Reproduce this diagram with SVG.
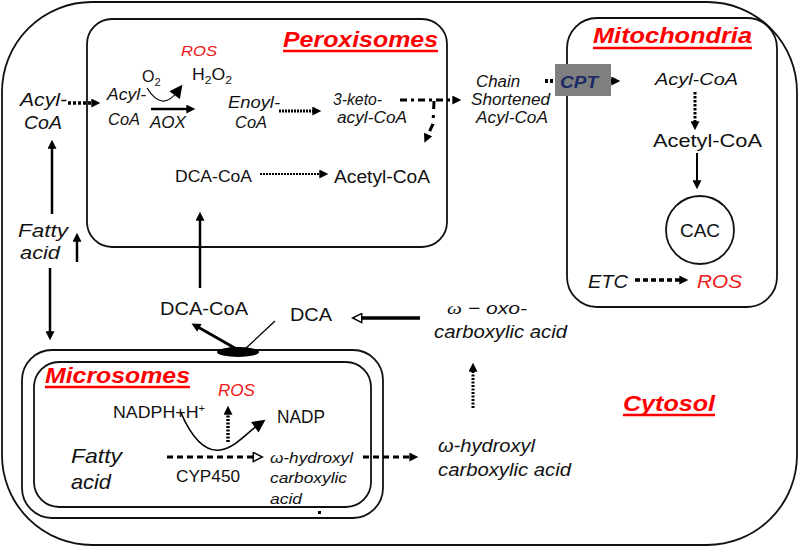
<svg xmlns="http://www.w3.org/2000/svg" width="800" height="547" viewBox="0 0 800 547">
<style>
text{font-family:"Liberation Sans",Arial,sans-serif;fill:#111}
.i{font-style:italic}
.red{fill:#f01818}
.ttl{font-weight:bold;font-style:italic;font-size:22px;fill:#f00}
.ul{stroke:#f00;stroke-width:2.5}
.box{fill:none;stroke:#111;stroke-width:1.8}
.c{fill:none;stroke:#000}
</style>
<defs>
<marker id="ah" viewBox="0 0 10 10" refX="3" refY="5" markerWidth="10" markerHeight="9" markerUnits="userSpaceOnUse" orient="auto"><path d="M0,0L10,5L0,10z" fill="#000"/></marker>
<marker id="ahb" viewBox="0 0 10 10" refX="3" refY="5" markerWidth="14" markerHeight="13" markerUnits="userSpaceOnUse" orient="auto"><path d="M0,0L10,5L0,10z" fill="#000"/></marker>
<marker id="aho" viewBox="-1 -1 12 12" refX="3" refY="5" markerWidth="12" markerHeight="11" markerUnits="userSpaceOnUse" orient="auto"><path d="M0,0L10,5L0,10z" fill="#fff" stroke="#000" stroke-width="1.6"/></marker>
</defs>

<g id="cytosol">
<rect class="box" x="2" y="2" width="795" height="543" rx="90"/>
<text class="ttl" x="623" y="411" textLength="92" lengthAdjust="spacingAndGlyphs">Cytosol</text>
<line class="ul" x1="623" y1="415" x2="715" y2="415"/>
</g>

<g id="peroxisomes">
<rect class="box" x="87" y="19" width="360" height="228" rx="25"/>
<text class="ttl" x="283" y="47" textLength="155" lengthAdjust="spacingAndGlyphs">Peroxisomes</text>
<line class="ul" x1="283" y1="51" x2="438" y2="51"/>
</g>

<g id="mitochondria">
<rect class="box" x="567" y="18" width="210" height="289" rx="30"/>
<text class="ttl" x="593" y="43" textLength="159" lengthAdjust="spacingAndGlyphs">Mitochondria</text>
<line class="ul" x1="593" y1="48" x2="752" y2="48"/>
</g>

<g id="microsomes">
<rect class="box" x="22" y="350" width="361" height="168" rx="30"/>
<rect class="box" x="34" y="362" width="337" height="145" rx="25"/>
<text class="ttl" x="45" y="383" textLength="145" lengthAdjust="spacingAndGlyphs">Microsomes</text>
<line class="ul" x1="45" y1="387" x2="190" y2="387"/>
<rect x="318" y="511" width="3" height="3" fill="#000"/>
</g>

<g id="connectors">
<line class="c" x1="68" y1="103" x2="94" y2="103" stroke-width="3.5" stroke-dasharray="3,2" marker-end="url(#ah)"/>
<line class="c" x1="279" y1="111" x2="315" y2="111" stroke-width="3" stroke-dasharray="2,1" marker-end="url(#ah)"/>
<line class="c" x1="260" y1="174" x2="322" y2="174" stroke-width="2.2" stroke-dasharray="2,1" marker-end="url(#ah)"/>
<line class="c" x1="151" y1="109" x2="189" y2="109" stroke-width="2.5" marker-end="url(#ah)"/>
<line class="c" x1="400" y1="100" x2="455" y2="100" stroke-width="3" stroke-dasharray="7,4,3,4" marker-end="url(#ah)"/>
<path class="c" d="M434,101 L433,124 L427,137" stroke-width="3" stroke-dasharray="8,6,3,6" marker-end="url(#ah)"/>
<line class="c" x1="545" y1="81" x2="614" y2="81" stroke-width="4" stroke-dasharray="3,2" marker-end="url(#ah)"/>
<line class="c" x1="695" y1="92" x2="695" y2="124" stroke-width="3" stroke-dasharray="2.5,1.5" marker-end="url(#ah)"/>
<line class="c" x1="697" y1="153" x2="697" y2="183" stroke-width="2" marker-end="url(#ah)"/>
<line class="c" x1="635" y1="280" x2="682" y2="280" stroke-width="3.5" stroke-dasharray="5,3" marker-end="url(#ah)"/>
<line class="c" x1="52" y1="214" x2="52" y2="146" stroke-width="2.5" marker-end="url(#ah)"/>
<line class="c" x1="77" y1="262" x2="77" y2="239" stroke-width="2.5" marker-end="url(#ah)"/>
<line class="c" x1="50" y1="268" x2="50" y2="334" stroke-width="2.5" marker-end="url(#ah)"/>
<line class="c" x1="200" y1="288" x2="200" y2="218" stroke-width="2.5" marker-end="url(#ah)"/>
<line class="c" x1="240" y1="351" x2="197" y2="326.5" stroke-width="2.8" marker-end="url(#ah)"/>
<line class="c" x1="275" y1="321" x2="244" y2="350" stroke-width="1.3"/>
<line class="c" x1="420" y1="318" x2="359" y2="318" stroke-width="3.5" marker-end="url(#aho)"/>
<line class="c" x1="473" y1="408" x2="473" y2="369" stroke-width="3" stroke-dasharray="2,1.5" marker-end="url(#ah)"/>
<line class="c" x1="228" y1="442" x2="228" y2="412" stroke-width="3.5" stroke-dasharray="2,1.5" marker-end="url(#ah)"/>
<line class="c" x1="167" y1="457" x2="256" y2="457" stroke-width="2.8" stroke-dasharray="6,4" marker-end="url(#aho)"/>
<line class="c" x1="363" y1="457" x2="412" y2="457" stroke-width="3" stroke-dasharray="6,4" marker-end="url(#ah)"/>
<path class="c" d="M147,88 Q162,112 177,92" stroke="#777" stroke-width="1.2" marker-end="url(#ahb)"/>
<path class="c" d="M181,413 C192,438 205,452 220,450 C235,448 248,432 258,425" stroke-width="1.6" marker-end="url(#ahb)"/>
<ellipse cx="238" cy="352" rx="21" ry="5" fill="#000"/>
<rect x="555" y="64" width="56" height="32" fill="#7f7f7f"/>
</g>

<g id="node-acyl-coa-cyt"><text class="i" font-size="18" x="20" y="106" textLength="47" lengthAdjust="spacingAndGlyphs">Acyl-</text><text class="i" font-size="18" x="24" y="129" textLength="38" lengthAdjust="spacingAndGlyphs">CoA</text></g>
<g id="node-fatty-acid-cyt"><text class="i" font-size="19" x="18" y="237" textLength="50" lengthAdjust="spacingAndGlyphs">Fatty</text><text class="i" font-size="19" x="20" y="259" textLength="40" lengthAdjust="spacingAndGlyphs">acid</text></g>

<g id="node-ros-perox"><text class="i red" font-size="15" x="181" y="56" textLength="36" lengthAdjust="spacingAndGlyphs">ROS</text></g>
<g id="node-o2"><text font-size="16" x="142" y="82">O<tspan font-size="11" dy="4">2</tspan></text></g>
<g id="node-h2o2"><text font-size="16" x="192" y="80" textLength="40" lengthAdjust="spacingAndGlyphs">H<tspan font-size="11" dy="4">2</tspan><tspan dy="-4">O</tspan><tspan font-size="11" dy="4">2</tspan></text></g>
<g id="node-acyl-coa-perox"><text class="i" font-size="16" x="107" y="100" textLength="39" lengthAdjust="spacingAndGlyphs">Acyl-</text><text class="i" font-size="16" x="108" y="125" textLength="32" lengthAdjust="spacingAndGlyphs">CoA</text></g>
<g id="label-aox"><text class="i" font-size="16" x="150" y="128" textLength="36" lengthAdjust="spacingAndGlyphs">AOX</text></g>
<g id="node-enoyl-coa"><text class="i" font-size="16" x="228" y="108" textLength="52" lengthAdjust="spacingAndGlyphs">Enoyl-</text><text class="i" font-size="16" x="235" y="128" textLength="32" lengthAdjust="spacingAndGlyphs">CoA</text></g>
<g id="node-3-keto"><text class="i" font-size="16" x="333" y="105" textLength="49" lengthAdjust="spacingAndGlyphs">3-keto-</text><text class="i" font-size="16" x="337" y="123" textLength="70" lengthAdjust="spacingAndGlyphs">acyl-CoA</text></g>
<g id="node-dca-coa-perox"><text font-size="17" x="175" y="182" textLength="77" lengthAdjust="spacingAndGlyphs">DCA-CoA</text></g>
<g id="node-acetyl-coa-perox"><text font-size="18" x="334" y="183" textLength="96" lengthAdjust="spacingAndGlyphs">Acetyl-CoA</text></g>
<g id="node-chain-shortened"><text class="i" font-size="16" x="476" y="87" textLength="44" lengthAdjust="spacingAndGlyphs">Chain</text><text class="i" font-size="16" x="471" y="105" textLength="79" lengthAdjust="spacingAndGlyphs">Shortened</text><text class="i" font-size="16" x="476" y="123" textLength="72" lengthAdjust="spacingAndGlyphs">Acyl-CoA</text></g>
<g id="node-cpt"><text class="i" font-size="16" font-weight="bold" style="fill:#1c2a66" x="560" y="88" textLength="38" lengthAdjust="spacingAndGlyphs">CPT</text></g>

<g id="node-acyl-coa-mito"><text class="i" font-size="17" x="655" y="85" textLength="83" lengthAdjust="spacingAndGlyphs">Acyl-CoA</text></g>
<g id="node-acetyl-coa-mito"><text font-size="19" x="653" y="147" textLength="109" lengthAdjust="spacingAndGlyphs">Acetyl-CoA</text></g>
<g id="node-cac"><circle cx="700" cy="230" r="34" fill="none" stroke="#111" stroke-width="1.8"/><text font-size="19" x="700" y="237" text-anchor="middle">CAC</text></g>
<g id="node-etc"><text class="i" font-size="18" x="588" y="288" textLength="40" lengthAdjust="spacingAndGlyphs">ETC</text></g>
<g id="node-ros-mito"><text class="i red" font-size="18" x="697" y="288" textLength="45" lengthAdjust="spacingAndGlyphs">ROS</text></g>

<g id="node-dca-coa-cyt"><text font-size="19" x="160" y="315" textLength="88" lengthAdjust="spacingAndGlyphs">DCA-CoA</text></g>
<g id="node-dca"><text font-size="19" x="290" y="321" textLength="42" lengthAdjust="spacingAndGlyphs">DCA</text></g>
<g id="node-oxo"><text class="i" font-size="17" x="447" y="314" textLength="80" lengthAdjust="spacingAndGlyphs"><tspan style="font-family:'Liberation Serif',serif">ω</tspan> − oxo-</text><text class="i" font-size="18" x="434" y="338" textLength="133" lengthAdjust="spacingAndGlyphs">carboxylic acid</text></g>
<g id="node-hydroxyl-cyt"><text class="i" font-size="18" x="438" y="452" textLength="97" lengthAdjust="spacingAndGlyphs">ω-hydroxyl</text><text class="i" font-size="18" x="438" y="476" textLength="133" lengthAdjust="spacingAndGlyphs">carboxylic acid</text></g>

<g id="node-ros-micro"><text class="i red" font-size="16" x="218" y="396" textLength="37" lengthAdjust="spacingAndGlyphs">ROS</text></g>
<g id="node-nadph"><text font-size="16" x="113" y="418" textLength="92" lengthAdjust="spacingAndGlyphs">NADPH+H<tspan font-size="10" dy="-6">+</tspan></text></g>
<g id="node-nadp"><text font-size="18" x="277" y="423" textLength="48" lengthAdjust="spacingAndGlyphs">NADP</text></g>
<g id="node-fatty-acid-micro"><text class="i" font-size="21" x="71" y="463" textLength="51" lengthAdjust="spacingAndGlyphs">Fatty</text><text class="i" font-size="21" x="71" y="489" textLength="40" lengthAdjust="spacingAndGlyphs">acid</text></g>
<g id="label-cyp450"><text font-size="16" x="176" y="482" textLength="64" lengthAdjust="spacingAndGlyphs">CYP450</text></g>
<g id="node-hydroxyl-micro"><text class="i" font-size="15.5" x="270" y="463" textLength="83" lengthAdjust="spacingAndGlyphs">ω-hydroxyl</text><text class="i" font-size="15.5" x="270" y="483" textLength="77" lengthAdjust="spacingAndGlyphs">carboxylic</text><text class="i" font-size="15.5" x="270" y="504" textLength="32" lengthAdjust="spacingAndGlyphs">acid</text></g>
</svg>
